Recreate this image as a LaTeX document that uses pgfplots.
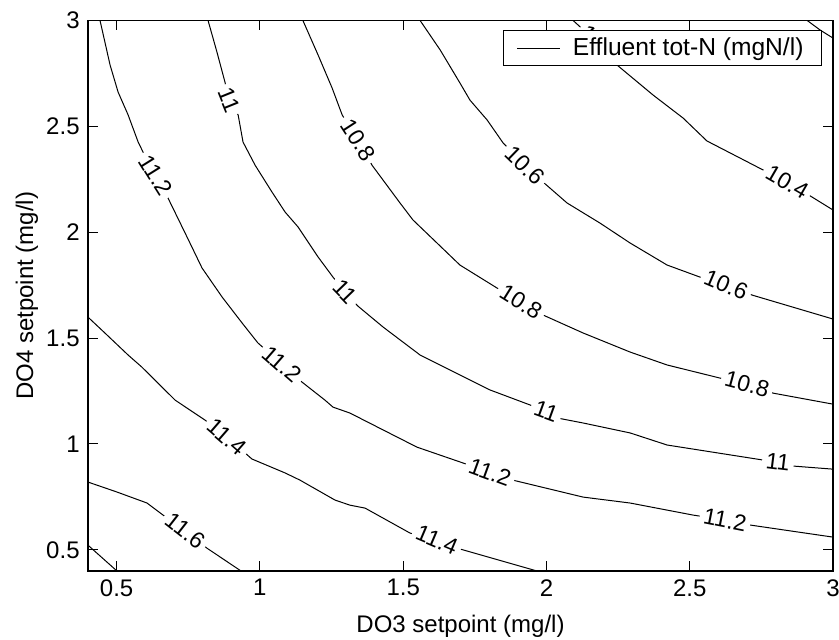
\documentclass[border=0pt]{standalone}
\usepackage{fontspec}
\setmainfont{Liberation Sans}
\usepackage{pgfplots}
\pgfplotsset{compat=1.18}
\tikzset{clab/.style={fill=white, inner xsep=2pt, inner ysep=0.5pt, font=\fontsize{11.5}{13}\selectfont}}
\begin{document}
\fontsize{12}{14}\selectfont
\begin{tikzpicture}
\path[use as bounding box] (-44pt,-34.5pt) rectangle (375.5pt,285.5pt);
\begin{axis}[
  at={(0,0)}, anchor=south west,
  scale only axis, width=372.5pt, height=275.25pt,
  xmin=0.4, xmax=3, ymin=0.4, ymax=3,
  xtick={0.5,1,1.5,2,2.5,3}, ytick={0.5,1,1.5,2,2.5,3},
  tick align=inside, xtick pos=both, ytick pos=both,
  xticklabel pos=lower, yticklabel pos=left,
  major tick length=5pt,
  /pgf/number format/assume math mode=true,
  ticklabel style={font=\fontsize{12}{14}\selectfont},
  axis line style={line width=0.6pt},
  every tick/.style={black, line width=0.5pt},
  axis on top,
  xlabel={DO3 setpoint (mg/l)}, ylabel={DO4 setpoint (mg/l)},
  label style={font=\fontsize{12}{14}\selectfont},
  xlabel style={at={(axis description cs:0.5,-0.1126)}, anchor=base},
  ylabel style={at={(axis description cs:-0.0738,0.5)}, anchor=base},
  legend entries={Effluent tot-N (mgN/l)},
  legend style={at={(1,1)}, anchor=north east, xshift=-5.5pt, yshift=-4.75pt,
    draw=black, line width=0.5pt, fill=white, font=\fontsize{12.3}{14}\selectfont,
    inner xsep=6.5pt, inner ysep=1pt, nodes={inner sep=2.5pt}, /tikz/column sep=3.5pt},
  legend image code/.code={\draw[#1, line width=0.5pt] (0pt,0pt) -- (21.5pt,0pt);},
]
% 11.8
\addplot[black, line width=0.5pt, mark=none] coordinates {(0.4,0.522) (0.501,0.4)};
% 11.6
\addplot[black, line width=0.5pt, mark=none] coordinates {(0.4,0.820) (0.501,0.773) (0.606,0.721) (0.662,0.664) (0.739,0.589) (0.815,0.508) (0.934,0.4)};
% 11.4
\addplot[black, line width=0.5pt, mark=none] coordinates {(0.4,1.599) (0.459,1.524) (0.540,1.420) (0.588,1.363) (0.658,1.269) (0.704,1.207) (0.808,1.113) (0.885,1.033) (0.972,0.929) (1.088,0.863) (1.140,0.829) (1.262,0.735) (1.314,0.711) (1.367,0.697) (1.524,0.579) (1.618,0.546) (1.698,0.504) (1.967,0.4)};
% 11.2
\addplot[black, line width=0.5pt, mark=none] coordinates {(0.442,3.0) (0.477,2.790) (0.505,2.662) (0.540,2.554) (0.575,2.426) (0.592,2.379) (0.637,2.270) (0.679,2.162) (0.739,1.996) (0.798,1.831) (0.868,1.694) (0.938,1.571) (0.993,1.477) (1.077,1.377) (1.147,1.292) (1.227,1.207) (1.255,1.174) (1.314,1.146) (1.548,0.985) (1.709,0.910) (1.803,0.867) (1.883,0.829) (2.128,0.749) (2.292,0.721) (2.512,0.664) (2.623,0.641) (2.711,0.617) (3.0,0.560)};
% 11
\addplot[black, line width=0.5pt, mark=none] coordinates {(0.819,3.0) (0.850,2.851) (0.878,2.709) (0.892,2.624) (0.924,2.554) (0.941,2.426) (0.983,2.317) (1.042,2.190) (1.088,2.095) (1.133,2.025) (1.203,1.883) (1.255,1.788) (1.297,1.718) (1.342,1.651) (1.430,1.552) (1.559,1.420) (1.664,1.349) (1.803,1.255) (1.943,1.184) (1.999,1.155) (2.040,1.122) (2.128,1.099) (2.292,1.052) (2.421,0.995) (2.756,0.924) (2.808,0.914) (2.857,0.896) (3.0,0.881)};
% 10.8
\addplot[black, line width=0.5pt, mark=none] coordinates {(1.150,3.0) (1.203,2.837) (1.252,2.681) (1.287,2.554) (1.342,2.436) (1.391,2.317) (1.489,2.138) (1.534,2.058) (1.618,1.949) (1.698,1.845) (1.828,1.736) (1.911,1.670) (1.988,1.609) (2.128,1.524) (2.292,1.434) (2.421,1.373) (2.606,1.311) (2.700,1.283) (2.791,1.240) (3.0,1.188)};
% 10.6
\addplot[black, line width=0.5pt, mark=none] coordinates {(1.559,3.0) (1.629,2.861) (1.698,2.705) (1.733,2.624) (1.793,2.530) (1.849,2.421) (1.925,2.317) (1.988,2.237) (2.072,2.138) (2.187,2.043) (2.292,1.949) (2.421,1.845) (2.536,1.788) (2.627,1.751) (2.718,1.703) (3.0,1.590)};
% 10.4
\addplot[black, line width=0.5pt, mark=none] coordinates {(2.093,3.0) (2.187,2.884) (2.246,2.790) (2.372,2.648) (2.477,2.539) (2.560,2.431) (2.676,2.350) (2.756,2.294) (2.840,2.237) (2.927,2.166) (3.0,2.105)};
% 10.2
\addplot[black, line width=0.5pt, mark=none] coordinates {(2.910,3.0) (2.955,2.955) (3.0,2.917)};
% contour labels
\node[clab, rotate=-38] at (axis cs:0.739,0.589) {11.6};
\node[clab, rotate=-41] at (axis cs:0.885,1.033) {11.4};
\node[clab, rotate=-23] at (axis cs:1.618,0.546) {11.4};
\node[clab, rotate=-58] at (axis cs:0.637,2.270) {11.2};
\node[clab, rotate=-41] at (axis cs:1.077,1.377) {11.2};
\node[clab, rotate=-20] at (axis cs:1.803,0.867) {11.2};
\node[clab, rotate=-11] at (axis cs:2.623,0.641) {11.2};
\node[clab, rotate=-68] at (axis cs:0.892,2.624) {11};
\node[clab, rotate=-46] at (axis cs:1.297,1.718) {11};
\node[clab, rotate=-20] at (axis cs:1.999,1.155) {11};
\node[clab, rotate=-7] at (axis cs:2.808,0.914) {11};
\node[clab, rotate=-57] at (axis cs:1.342,2.436) {10.8};
\node[clab, rotate=-32] at (axis cs:1.911,1.670) {10.8};
\node[clab, rotate=-15] at (axis cs:2.700,1.283) {10.8};
\node[clab, rotate=-44] at (axis cs:1.925,2.317) {10.6};
\node[clab, rotate=-23] at (axis cs:2.627,1.751) {10.6};
\node[clab, rotate=-30] at (axis cs:2.840,2.237) {10.4};
\node[clab, rotate=-45] at (axis cs:2.187,2.884) {10.4};
\end{axis}
\end{tikzpicture}
\end{document}
